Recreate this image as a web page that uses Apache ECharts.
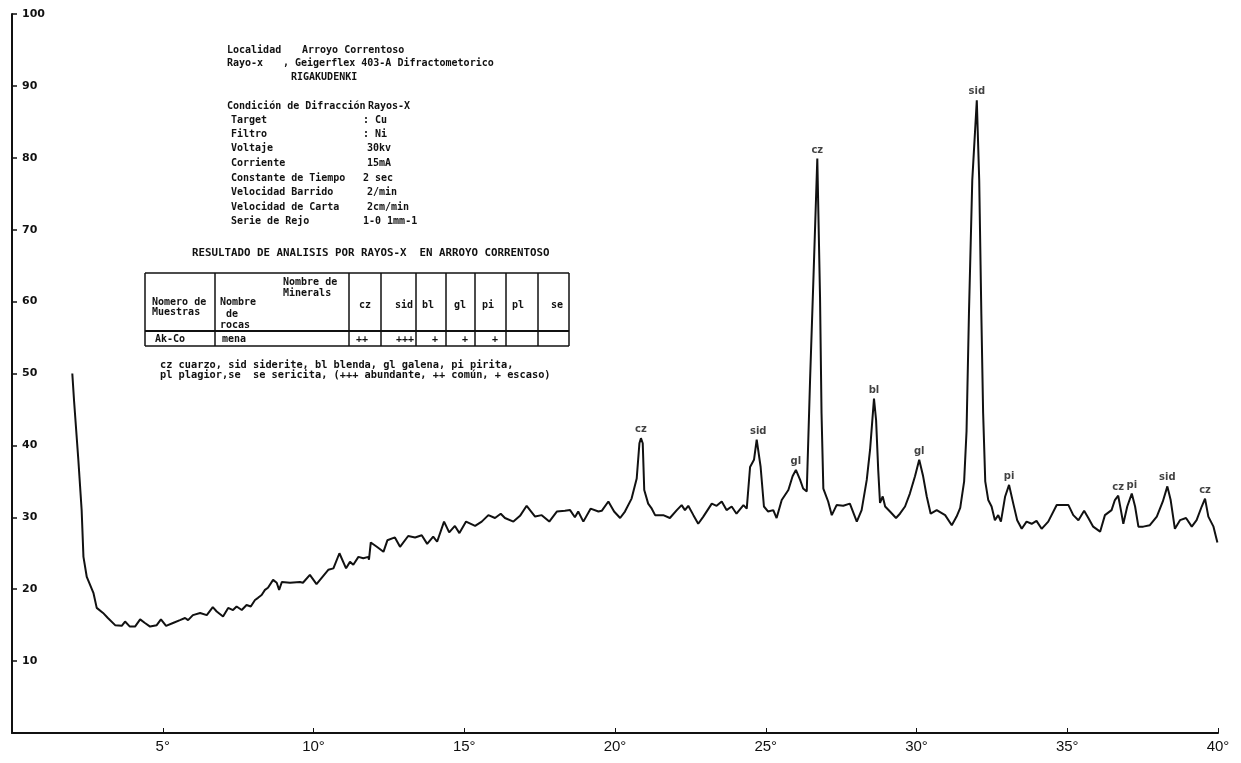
<!DOCTYPE html>
<html>
<head>
<meta charset="utf-8">
<script src="https://cdn.jsdelivr.net/npm/echarts@6/dist/echarts.min.js"></script>
<style>html,body{margin:0;padding:0;background:#fff}#c{width:1241px;height:763px}</style>
</head>
<body>
<div id="c"></div>
<script>
// ---- data (2θ in degrees, intensity) ----
const twoTheta = [2.0,2.06,2.2,2.31,2.37,2.48,2.7,2.81,3.02,3.18,3.42,3.64,3.75,3.91,4.08,4.25,4.41,4.58,4.8,4.94,5.11,5.34,5.57,5.74,5.84,6.0,6.24,6.46,6.66,6.79,7.0,7.17,7.33,7.45,7.62,7.78,7.92,8.06,8.16,8.28,8.39,8.49,8.66,8.78,8.86,8.95,9.22,9.55,9.65,9.88,10.1,10.49,10.66,10.86,11.08,11.21,11.32,11.49,11.65,11.82,11.84,11.9,12.1,12.32,12.45,12.7,12.87,13.14,13.37,13.59,13.77,13.97,14.1,14.33,14.5,14.69,14.84,15.06,15.36,15.58,15.8,16.02,16.21,16.35,16.63,16.85,17.07,17.35,17.57,17.82,18.07,18.34,18.51,18.67,18.78,18.95,19.19,19.45,19.56,19.78,19.97,20.17,20.33,20.55,20.72,20.81,20.86,20.92,20.97,21.1,21.22,21.33,21.6,21.82,22.05,22.21,22.32,22.43,22.6,22.76,22.93,23.21,23.37,23.54,23.7,23.87,24.03,24.26,24.37,24.48,24.61,24.7,24.75,24.83,24.94,25.08,25.25,25.36,25.53,25.75,25.89,26.0,26.14,26.24,26.36,26.41,26.47,26.58,26.71,26.8,26.85,26.91,27.07,27.19,27.35,27.57,27.79,28.02,28.18,28.35,28.46,28.59,28.66,28.73,28.79,28.88,28.96,29.12,29.32,29.45,29.62,29.78,29.95,30.09,30.22,30.34,30.47,30.67,30.95,31.17,31.33,31.45,31.58,31.66,31.74,31.85,32.0,32.08,32.15,32.21,32.28,32.38,32.49,32.6,32.71,32.8,32.94,33.07,33.21,33.34,33.49,33.65,33.82,33.98,34.15,34.37,34.65,34.87,35.04,35.2,35.37,35.56,35.7,35.86,36.09,36.25,36.47,36.58,36.69,36.77,36.86,36.99,37.14,37.25,37.36,37.52,37.74,37.97,38.17,38.32,38.43,38.57,38.74,38.94,39.13,39.29,39.46,39.57,39.68,39.85,39.98];
const intensity = [50,46.1,38,31,24.5,21.7,19.5,17.4,16.7,16.0,15.0,14.9,15.5,14.8,14.8,15.8,15.3,14.8,15.0,15.8,14.9,15.3,15.7,16.0,15.7,16.4,16.7,16.4,17.5,16.9,16.2,17.4,17.1,17.6,17.1,17.8,17.6,18.5,18.8,19.2,19.9,20.2,21.3,20.9,19.9,21.0,20.9,21.0,20.9,22.0,20.7,22.7,22.9,25.0,22.9,23.8,23.4,24.5,24.3,24.5,24.1,26.5,25.9,25.2,26.8,27.2,25.9,27.4,27.2,27.5,26.3,27.3,26.6,29.4,27.9,28.8,27.8,29.4,28.8,29.4,30.3,29.9,30.5,29.9,29.4,30.2,31.6,30.1,30.3,29.4,30.8,30.9,31.0,30.0,30.8,29.4,31.2,30.8,30.9,32.2,30.8,29.9,30.8,32.6,35.4,40.3,41.0,40.3,33.8,31.9,31.2,30.3,30.3,29.9,31.0,31.7,31.0,31.6,30.3,29.1,30.1,31.9,31.6,32.2,31.0,31.5,30.5,31.7,31.2,37.0,38.0,40.8,40.8,37.0,31.5,30.8,31.0,29.9,32.4,33.8,35.7,36.6,35.2,34.0,33.6,33.8,49.1,63,79.9,60.7,44.5,34.0,32.2,30.3,31.7,31.6,31.9,29.4,31.0,35.2,39.4,46.5,43.5,36.6,32.0,32.9,31.5,30.8,29.9,30.5,31.5,33.3,35.7,38.0,35.7,32.9,30.5,31.0,30.3,28.9,30.1,31.3,35,42,58.4,76.9,88.0,76.9,58.4,44.5,35,32.4,31.5,29.6,30.3,29.4,32.9,34.5,31.9,29.6,28.4,29.4,29.1,29.5,28.4,29.4,31.7,31.7,31.7,30.3,29.6,30.9,29.9,28.7,28.0,30.3,31.0,32.4,33.0,31.2,29.1,31.5,33.3,31.5,28.7,28.7,28.9,30.1,32.2,34.3,32.4,28.4,29.6,29.9,28.7,29.6,31.5,32.6,30.1,28.7,26.5];

const peakPos  = [20.86,24.75,26.0,26.71,28.59,30.09,32.0,33.07,36.69,37.14,38.32,39.57];
const peakVal  = [41.0,40.8,36.6,79.9,46.5,38.0,88.0,34.5,33.0,33.3,34.3,32.6];
const peakName = ['cz','sid','gl','cz','bl','gl','sid','pi','cz','pi','sid','cz'];

const xTicks = [5,10,15,20,25,30,35,40];
const yTicks = [10,20,30,40,50,60,70,80,90,100];

const infoLeft = ['Localidad','Rayo-x','','','Condición de Difracción','Target','Filtro','Voltaje','Corriente','Constante de Tiempo','Velocidad Barrido','Velocidad de Carta','Serie de Rejo'];
const infoRight = ['Arroyo Correntoso',', Geigerflex 403-A Difractometorico','RIGAKUDENKI','','Rayos-X',': Cu',': Ni','30kv','15mA','2 sec','2/min','2cm/min','1-0 1mm-1'];

const tableTitle = 'RESULTADO DE ANALISIS POR RAYOS-X  EN ARROYO CORRENTOSO';
const mineralCols = ['cz','sid','bl','gl','pi','pl','se'];
const sampleRow = ['Ak-Co','mena','++','+++','+','+','+','',''];
const footnote1 = 'cz cuarzo, sid siderite, bl blenda, gl galena, pi pirita,';
const footnote2 = 'pl plagior,se  se sericita, (+++ abundante, ++ común, + escaso)';

// ---- layout helpers ----
const FONT = "'DejaVu Sans Mono', monospace";
function txt(x, y, s, size, align) {
  return { type: 'text', x: x, y: y, style: { text: s, font: 'bold ' + (size||10) + 'px ' + FONT, fill: '#111', textAlign: align || 'left', textVerticalAlign: 'middle' } };
}
function ln(x1, y1, x2, y2, w) {
  return { type: 'line', shape: { x1, y1, x2, y2 }, style: { stroke: '#111', lineWidth: w || 1.5 } };
}
const graphics = [];
const infoY = [50,63,77,0,106,120,134,148,163,178,192,207,221];
const infoLX = [227,227,0,0,227,231,231,231,231,231,231,231,231];
const infoRX = [302,283,291,0,368,363,363,367,367,363,367,367,363];
infoLeft.forEach((s, i) => { if (s) graphics.push(txt(infoLX[i], infoY[i], s, 10)); });
infoRight.forEach((s, i) => { if (s) graphics.push(txt(infoRX[i], infoY[i], s, 10)); });
graphics.push(txt(192, 253, tableTitle, 10.8));
// table frame
const tL = 145, tR = 569, tT = 273, tM = 331, tB = 346;
graphics.push(ln(tL, tT, tR, tT), ln(tL, tB, tR, tB), ln(tL, tM, tR, tM, 2), ln(tL, tT, tL, tB), ln(tR, tT, tR, tB));
const colX = [215, 349, 381, 416, 446, 475, 506, 538];
colX.forEach(x => graphics.push(ln(x, tT, x, tB)));
graphics.push(txt(283, 282, 'Nombre de', 10), txt(283, 293, 'Minerals', 10));
graphics.push(txt(152, 302, 'Nomero de', 10), txt(152, 312, 'Muestras', 10));
graphics.push(txt(220, 302, 'Nombre', 10), txt(226, 314, 'de', 10), txt(220, 325, 'rocas', 10));
const colRight = [371, 413, 434, 466, 494, 524, 563];
mineralCols.forEach((s, i) => graphics.push(txt(colRight[i], 305, s, 10, 'right')));
graphics.push(txt(155, 339, sampleRow[0], 10), txt(222, 339, sampleRow[1], 10));
const valRight = [368, 414, 438, 468, 498];
sampleRow.slice(2).forEach((s, i) => { if (s) graphics.push(txt(valRight[i], 339, s, 10, 'right')); });
graphics.push(txt(160, 365, footnote1, 10.3), txt(160, 375, footnote2, 10.3));

const chart = echarts.init(document.getElementById('c'));
chart.setOption({
  backgroundColor: '#fff',
  animation: false,
  grid: { left: 12, right: 23, top: 14, bottom: 30 },
  xAxis: {
    type: 'value', min: 0, max: 40, interval: 5,
    axisLine: { show: true, lineStyle: { color: '#111', width: 2 } },
    axisTick: { show: true, inside: true, length: 5, lineStyle: { color: '#111', width: 1 } },
    axisLabel: { color: '#111', fontSize: 15, fontFamily: 'Liberation Sans', margin: 6,
      formatter: v => xTicks.indexOf(v) >= 0 ? v + '°' : '' },
    splitLine: { show: false }
  },
  yAxis: {
    type: 'value', min: 0, max: 100, interval: 10, offset: 2,
    axisLine: { show: true, lineStyle: { color: '#111', width: 2 } },
    axisTick: { show: true, inside: true, length: 5, lineStyle: { color: '#111', width: 1.5 } },
    axisLabel: { inside: true, margin: 12, color: '#111', fontSize: 11, fontWeight: 'bold', fontFamily: 'DejaVu Sans',
      formatter: v => yTicks.indexOf(v) >= 0 ? String(v) : '' },
    splitLine: { show: false }
  },
  series: [
    {
      type: 'line', data: twoTheta.map((x, i) => [x, intensity[i]]),
      showSymbol: false, symbol: 'none',
      lineStyle: { color: '#111', width: 2 }
    },
    {
      type: 'scatter', data: peakPos.map((x, i) => ({ value: [x, peakVal[i]], name: peakName[i] })),
      symbolSize: 1, itemStyle: { color: 'rgba(0,0,0,0)' },
      label: { show: true, position: 'top', distance: 3, formatter: p => p.name, color: '#111', fontSize: 10, fontWeight: 'bold', fontFamily: 'DejaVu Sans' }
    }
  ],
  graphic: graphics
});
</script>
</body>
</html>
